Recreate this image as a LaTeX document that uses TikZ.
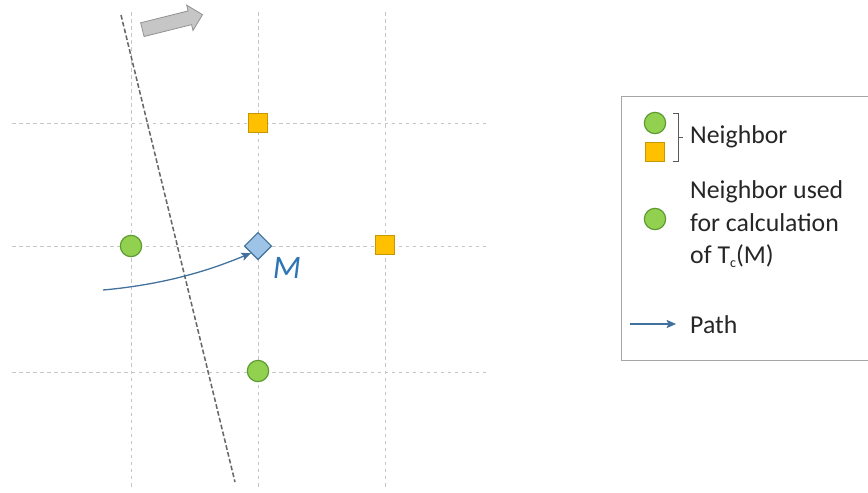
\documentclass[tikz,border=0pt]{standalone}
\usepackage{fontspec}
\setmainfont{Carlito}
\usetikzlibrary{shapes}
\usetikzlibrary{calc}
\usetikzlibrary{arrows.meta}

\definecolor{leaf}{HTML}{92D050}
\definecolor{leafline}{HTML}{5E9A32}
\definecolor{gold}{HTML}{FFC000}
\definecolor{goldline}{HTML}{C89600}
\definecolor{skyfill}{HTML}{9DC3E6}
\definecolor{skyline}{HTML}{41719C}
\definecolor{mblue}{HTML}{2E75B6}

\begin{document}
\begin{tikzpicture}[x=0.03cm, y=-0.03cm, >={Stealth[length=8pt,width=7pt,inset=1.5pt]},
  grid/.style={gray!45, dashed, line width=.5pt},
  nb/.style={circle, draw=leafline, fill=leaf, line width=1pt, minimum size=.64cm, inner sep=0},
  sq/.style={rectangle, draw=goldline, fill=gold, line width=1pt, minimum size=.55cm, inner sep=0},
  cell/.style={diamond, draw=skyline, fill=skyfill, line width=1pt, minimum size=.82cm, inner sep=0},
  route/.style={skyline, line width=1.1pt},
  txt/.style={anchor=west, inner sep=0, text=black!85, font=\fontsize{22}{28}\selectfont}]

\useasboundingbox (0,0) rectangle (868,492);

\foreach \g in {131,258,385} \draw[grid] (\g,12) -- (\g,490);
\foreach \g in {123,246,372} \draw[grid] (12,\g) -- (490,\g);

\coordinate (d1) at (121,15);
\coordinate (d2) at (235,482);
\draw[black!60, dash pattern=on 4pt off 2pt, line width=1.3pt] (d1) -- (d2);

\node[single arrow, fill=gray!45, draw=gray!85, line width=.7pt, rotate=14, minimum height=1.86cm,
  inner sep=.2cm, single arrow head extend=.18cm] (dir) at (169,23) {};

\node[nb] (v1) at (131,246) {};
\node[sq] (v2) at (258,123) {};
\node[sq] (v3) at (385,245) {};
\node[nb] (v4) at (258,371) {};
\node[cell] (m) at (258,246) {};
\node[mblue, font=\fontsize{28}{30}\selectfont\itshape] (ml) at (287,268) {M};

\coordinate (p0) at (103,290);
\draw[route,->] (p0) .. controls (170,284) and (215,268) .. (m.south west);

% legend
\draw[gray!70, line width=.8pt] (621,96) rectangle (880,360);
\node[nb] (l1) at (655,123) {};
\node[sq] (l2) at (655,152) {};
\draw[gray!130, line width=.6pt] (673,113) -- (678,113) -- (678,161) -- (673,161);
\draw[gray!130, line width=.6pt] (678,137) -- (683,137);
\node[txt] (t1) at (690,137) {Neighbor};
\node[nb] (l3) at (655,219) {};
\node[txt, align=left] (t2) at (690,224) {Neighbor used\\for calculation\\of T\raisebox{-3pt}{\fontsize{12}{12}\selectfont c}(M)};
\coordinate (a0) at (630,324);
\coordinate (a1) at (676,324);
\draw[route,->] (a0) -- (a1);
\node[txt] (t3) at (690,325) {Path};
\end{tikzpicture}
\end{document}
